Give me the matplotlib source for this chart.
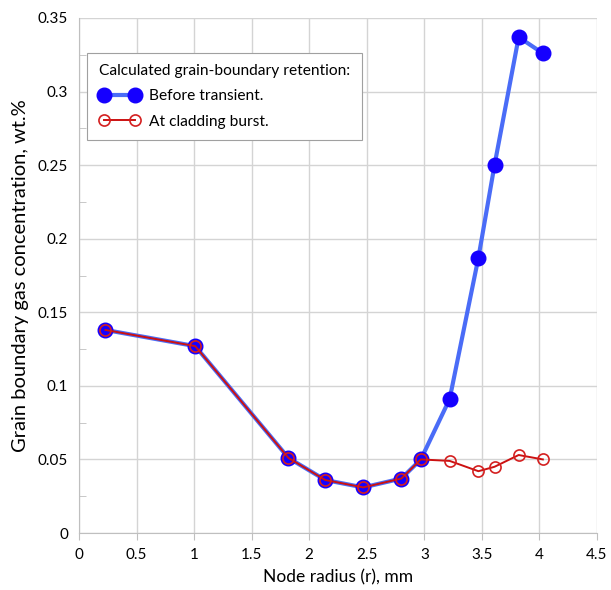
import matplotlib.pyplot as plt
from matplotlib.ticker import MultipleLocator

# node radii (mm) and grain-boundary gas concentration (wt.%)
radius = [0.23, 1.01, 1.82, 2.14, 2.47, 2.80, 2.97, 3.22, 3.47, 3.61, 3.82, 4.03]
before_transient = [0.138, 0.127, 0.051, 0.036, 0.031, 0.037, 0.050, 0.091, 0.187, 0.250, 0.337, 0.326]
at_burst = [0.138, 0.127, 0.051, 0.036, 0.031, 0.037, 0.050, 0.049, 0.042, 0.045, 0.053, 0.050]

plt.rcParams['font.family'] = ['Lato', 'DejaVu Sans']

fig = plt.figure(figsize=(6.11, 5.9), dpi=100)
ax = fig.add_axes([0.1293, 0.0966, 0.8477, 0.8729])

ax.plot(radius, before_transient, color='#4a6cf7', lw=3, marker='o', ms=10.5,
        mfc='#1500ff', mec='#1500ff', label='Before transient.', zorder=3)
ax.plot(radius, at_burst, color='#cc1111', lw=1.4, marker='o', ms=8,
        mfc='none', mec='#d42020', mew=1.2, label='At cladding burst.', zorder=4)

ax.set_xlim(0, 4.5)
ax.set_ylim(0, 0.35)
ax.yaxis.set_minor_locator(MultipleLocator(0.025))
ax.set_xticks([0, 0.5, 1, 1.5, 2, 2.5, 3, 3.5, 4, 4.5])
ax.set_xticklabels(['0', '0.5', '1', '1.5', '2', '2.5', '3', '3.5', '4', '4.5'])
ax.set_yticks([0, 0.05, 0.1, 0.15, 0.2, 0.25, 0.3, 0.35])
ax.set_yticklabels(['0', '0.05', '0.1', '0.15', '0.2', '0.25', '0.3', '0.35'])

ax.grid(True, which='major', color='#d4d4d4', lw=1)
ax.set_axisbelow(True)
for s in ['top', 'right']:
    ax.spines[s].set_visible(False)
for s in ['left', 'bottom']:
    ax.spines[s].set_color('#bfbfbf')
ax.tick_params(axis='x', which='major', direction='out', length=5, color='#bfbfbf',
               labelsize=11, pad=6)
ax.tick_params(axis='y', which='major', length=0, labelsize=11, pad=8)
ax.tick_params(axis='y', which='minor', direction='in', length=5, color='#bfbfbf')

ax.set_xlabel('Node radius (r), mm', fontsize=12.5, labelpad=5)
ax.set_ylabel('Grain boundary gas concentration, wt.%', fontsize=14.5, labelpad=6)

leg = ax.legend(title='Calculated grain-boundary retention:', loc='upper left',
                bbox_to_anchor=(0.016, 0.933), fontsize=11.2, title_fontsize=11.2,
                fancybox=False, edgecolor='#a0a0a0', framealpha=1,
                numpoints=2, handlelength=2.6, handletextpad=0.6,
                borderpad=0.75, borderaxespad=0, labelspacing=0.72)
leg._legend_box.align = 'left'
leg.get_frame().set_linewidth(0.8)

fig.savefig('out.png', dpi=100)
